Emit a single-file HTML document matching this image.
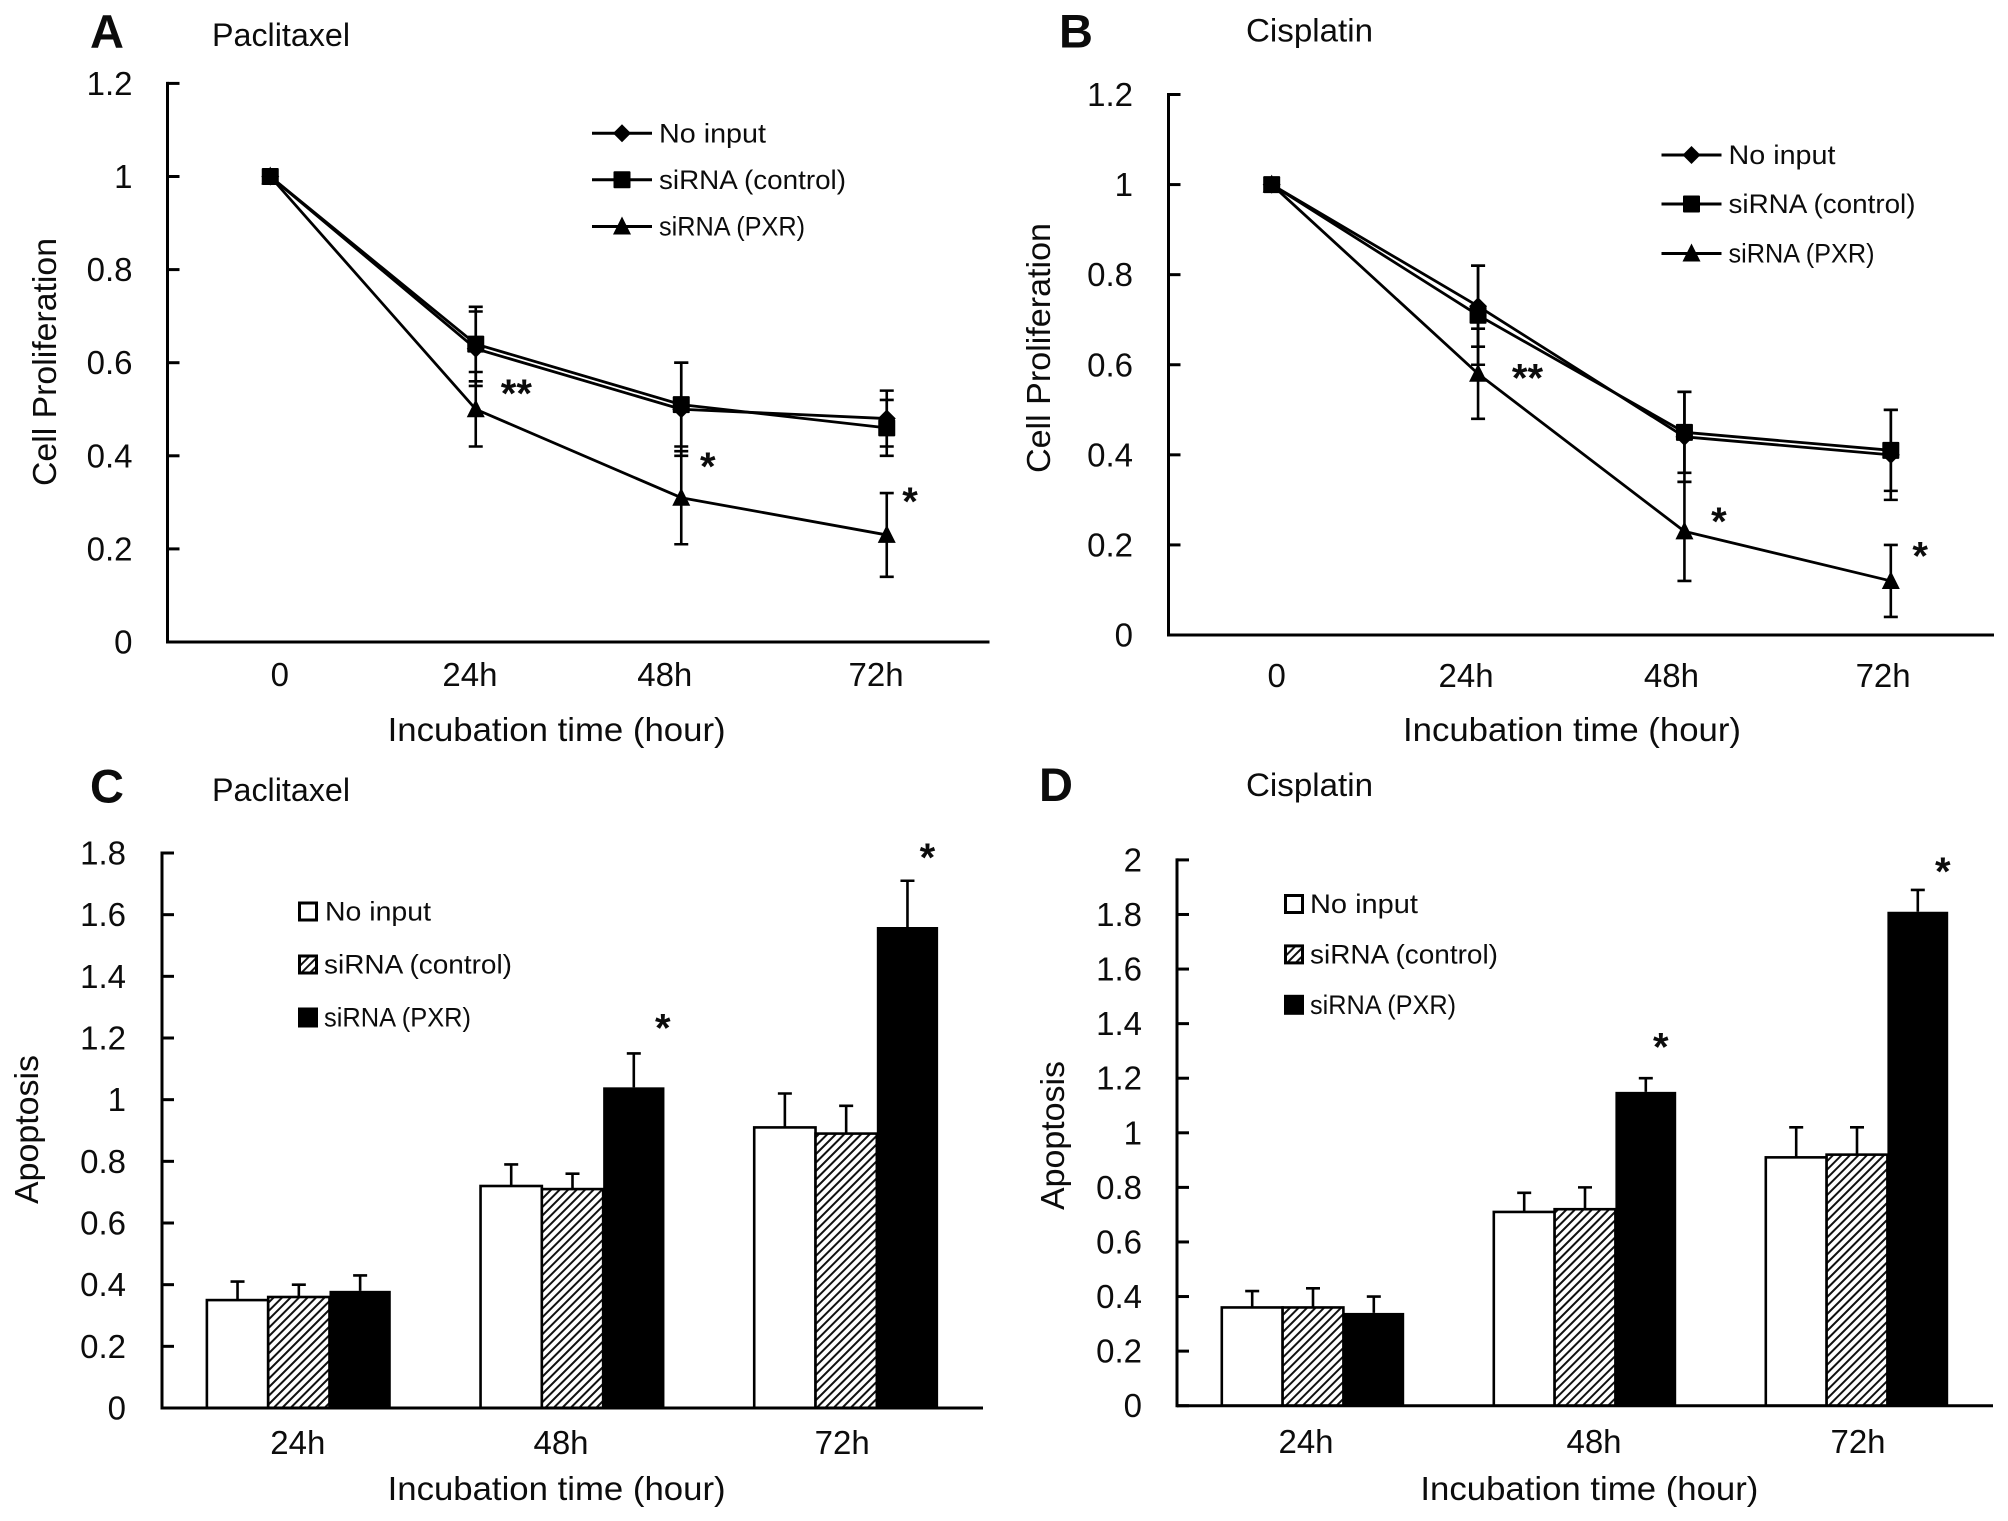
<!DOCTYPE html>
<html lang="en">
<head>
<meta charset="utf-8">
<title>Cell proliferation and apoptosis after siRNA knockdown</title>
<style>
  html, body { margin: 0; padding: 0; background: #fff; }
  svg { display: block; }
  text { font-family: "Liberation Sans", sans-serif; fill: #0c0c0c; }
</style>
</head>
<body>
<svg id="figure" xmlns="http://www.w3.org/2000/svg" width="2008" height="1521" viewBox="0 0 2008 1521">
  <defs>
    <pattern id="hatch" patternUnits="userSpaceOnUse" width="6" height="6" patternTransform="rotate(45)">
      <rect width="6" height="6" fill="#fff"></rect>
      <rect x="0" y="0" width="2" height="6" fill="#111"></rect>
    </pattern>
  </defs>
  <rect x="0" y="0" width="2008" height="1521" fill="#fff"></rect>
</svg>
<script>
// ---- Panel A: proliferation, paclitaxel ----
const aCategories = ['0', '24h', '48h', '72h'];
const aTicks = [0, 0.2, 0.4, 0.6, 0.8, 1, 1.2];
const aNoInput = [1, 0.63, 0.50, 0.48];
const aControl = [1, 0.64, 0.51, 0.46];
const aPxr = [1, 0.50, 0.31, 0.23];
const aNoInputErr = [0, 0.08, 0.10, 0.06];
const aControlErr = [0, 0.08, 0.09, 0.06];
const aPxrErr = [0, 0.08, 0.10, 0.09];
const aStars = ['', '**', '*', '*'];

// ---- Panel B: proliferation, cisplatin ----
const bCategories = ['0', '24h', '48h', '72h'];
const bTicks = [0, 0.2, 0.4, 0.6, 0.8, 1, 1.2];
const bNoInput = [1, 0.73, 0.44, 0.40];
const bControl = [1, 0.71, 0.45, 0.41];
const bPxr = [1, 0.58, 0.23, 0.12];
const bNoInputErr = [0, 0.09, 0.10, 0.10];
const bControlErr = [0, 0.11, 0.09, 0.09];
const bPxrErr = [0, 0.10, 0.11, 0.08];
const bStars = ['', '**', '*', '*'];

// ---- Panel C: apoptosis, paclitaxel ----
const cCategories = ['24h', '48h', '72h'];
const cTicks = [0, 0.2, 0.4, 0.6, 0.8, 1, 1.2, 1.4, 1.6, 1.8];
const cNoInput = [0.35, 0.72, 0.91];
const cControl = [0.36, 0.71, 0.89];
const cPxr = [0.38, 1.04, 1.56];
const cNoInputErr = [0.06, 0.07, 0.11];
const cControlErr = [0.04, 0.05, 0.09];
const cPxrErr = [0.05, 0.11, 0.15];
const cStars = ['', '*', '*'];

// ---- Panel D: apoptosis, cisplatin ----
const dCategories = ['24h', '48h', '72h'];
const dTicks = [0, 0.2, 0.4, 0.6, 0.8, 1, 1.2, 1.4, 1.6, 1.8, 2];
const dNoInput = [0.36, 0.71, 0.91];
const dControl = [0.36, 0.72, 0.92];
const dPxr = [0.34, 1.15, 1.81];
const dNoInputErr = [0.06, 0.07, 0.11];
const dControlErr = [0.07, 0.08, 0.10];
const dPxrErr = [0.06, 0.05, 0.08];
const dStars = ['', '*', '*'];

const seriesNames = ['No input', 'siRNA (control)', 'siRNA (PXR)'];
const seriesSlugs = ['no-input', 'sirna-control', 'sirna-pxr'];

const NS = 'http://www.w3.org/2000/svg';
const root = document.getElementById('figure');

function make(parent, tag, props) {
  const node = document.createElementNS(NS, tag);
  for (const key in props) node.setAttribute(key, props[key]);
  parent.appendChild(node);
  return node;
}

function addText(parent, name, str, x, y, size, opts) {
  const o = opts || {};
  const props = { x: x, y: y, 'font-size': size };
  if (o.anchor) props['text-anchor'] = o.anchor;
  if (o.weight) props['font-weight'] = o.weight;
  if (o.length) {
    props.textLength = o.length;
    props.lengthAdjust = 'spacingAndGlyphs';
  }
  if (o.transform) props.transform = o.transform;
  const t = make(parent, 'text', props);
  t.textContent = str;
  
  
  return t;
}

function newGroup(parent, name) {
  const g = make(parent, 'g', {});
  
  
  return g;
}

function drawMarker(parent, kind, cx, cy, name) {
  let m;
  if (kind === 0) {
    m = make(parent, 'polygon', { points: [cx, cy - 9, cx + 9, cy, cx, cy + 9, cx - 9, cy].join(' '), fill: '#000' });
  } else if (kind === 1) {
    m = make(parent, 'rect', { x: cx - 8.5, y: cy - 8.5, width: 17, height: 17, rx: 1, fill: '#000' });
  } else {
    m = make(parent, 'polygon', { points: [cx, cy - 10, cx + 9, cy + 8, cx - 9, cy + 8].join(' '), fill: '#000' });
  }
  
  
}

function drawFrame(panel, p, ticks, yScale) {
  const yAxis = make(panel, 'line', { x1: p.axisX, x2: p.axisX, y1: p.top - 1.5, y2: p.zero + 1.5, stroke: '#000', 'stroke-width': 3 });
  
  
  const xAxis = make(panel, 'line', { x1: p.axisX, x2: p.axisEnd, y1: p.zero, y2: p.zero, stroke: '#000', 'stroke-width': 3 });
  
  
  ticks.forEach(function (v) {
    const py = yScale(v);
    const tick = make(panel, 'line', { x1: p.axisX, x2: p.axisX + 12, y1: py, y2: py, stroke: '#000', 'stroke-width': 3 });
    
    
    addText(panel, 'y-tick-label', String(v), p.tickRight, py + 11.5, 33, { anchor: 'end' });
  });
}

function drawTitles(panel, p) {
  addText(panel, 'panel-letter', p.letter, p.letterX, p.letterY, 47, { weight: 'bold' });
  addText(panel, 'panel-title', p.title, p.titleX, p.titleY, 32, { length: p.titleLen });
  addText(panel, 'x-axis-title', 'Incubation time (hour)', p.xTitleX, p.xTitleY, 33, { length: 338 });
  addText(panel, 'y-axis-title', p.yTitle, 0, 0, 33, {
    length: p.yTitleLen,
    anchor: 'start',
    transform: 'translate(' + p.yTitleX + ',' + p.yTitleBottom + ') rotate(-90)'
  });
}

function drawLinePanel(p, categories, ticks, series, errors, stars) {
  const panel = newGroup(root, p.name);
  const catW = (p.axisEnd - p.axisX) / categories.length;
  const xScale = function (i) { return p.axisX + (i + 0.5) * catW; };
  const yScale = function (v) { return p.zero - (v / ticks[ticks.length - 1]) * (p.zero - p.top); };

  drawFrame(panel, p, ticks, yScale);
  drawTitles(panel, p);

  categories.forEach(function (c, i) {
    addText(panel, 'x-tick-label', c, xScale(i) + p.labelNudge[i], p.labelY, 33, { anchor: 'middle' });
  });

  series.forEach(function (values, s) {
    const g = newGroup(panel, 'series-' + seriesSlugs[s]);
    values.forEach(function (v, i) {
      const e = errors[s][i];
      if (!e) return;
      const cx = xScale(i);
      const hi = yScale(v + e);
      const lo = yScale(v - e);
      const bar = make(g, 'path', {
        d: 'M' + (cx - 7) + ' ' + hi + 'H' + (cx + 7) + 'M' + cx + ' ' + hi + 'V' + lo + 'M' + (cx - 7) + ' ' + lo + 'H' + (cx + 7),
        fill: 'none', stroke: '#000', 'stroke-width': 2.6
      });
      
      
    });
    const pts = values.map(function (v, i) { return xScale(i) + ',' + yScale(v); }).join(' ');
    const line = make(g, 'polyline', { points: pts, fill: 'none', stroke: '#000', 'stroke-width': 2.8, 'stroke-linejoin': 'round' });
    
    
    values.forEach(function (v, i) {
      drawMarker(g, s, xScale(i), yScale(v), 'data-point');
    });
  });

  stars.forEach(function (mark, i) {
    if (!mark) return;
    const top = series[2][i] + errors[2][i];
    addText(panel, 'significance-mark', mark, xScale(i) + p.starDx[i], yScale(top) + p.starDy[i] + 17, 40, { anchor: 'middle', weight: 'bold' });
  });

  const legend = newGroup(panel, 'legend');
  seriesNames.forEach(function (label, s) {
    const entry = newGroup(legend, 'legend-entry');
    const ly = p.legendY[s];
    const sample = make(entry, 'line', { x1: p.legendX, x2: p.legendX + 60, y1: ly, y2: ly, stroke: '#000', 'stroke-width': 3 });
    
    
    drawMarker(entry, s, p.legendX + 30, ly, 'legend-marker');
    addText(entry, 'legend-label', label, p.legendX + 67, ly + 9, 27, { length: p.legendLen[s] });
  });
}

function drawBarPanel(p, categories, ticks, series, errors, stars) {
  const panel = newGroup(root, p.name);
  const catW = (p.axisEnd - p.axisX) / categories.length;
  const barW = p.barW;
  const yScale = function (v) { return p.zero - (v / ticks[ticks.length - 1]) * (p.zero - p.top); };
  const barLeft = function (i, s) { return p.axisX + (i + 0.5) * catW + (s - 1.5) * barW; };
  const fills = ['#fff', 'url(#hatch)', '#000'];

  drawTitles(panel, p);

  series.forEach(function (values, s) {
    const g = newGroup(panel, 'series-' + seriesSlugs[s]);
    values.forEach(function (v, i) {
      const cx = barLeft(i, s) + barW / 2;
      const hi = yScale(v + errors[s][i]);
      const err = make(g, 'path', {
        d: 'M' + (cx - 7) + ' ' + hi + 'H' + (cx + 7) + 'M' + cx + ' ' + hi + 'V' + yScale(v),
        fill: 'none', stroke: '#000', 'stroke-width': 2.6
      });
      
      
      const bar = make(g, 'rect', {
        x: barLeft(i, s), y: yScale(v), width: barW, height: p.zero - yScale(v),
        fill: fills[s], stroke: s === 2 ? 'none' : '#000', 'stroke-width': 2.6
      });
      
      
    });
  });

  drawFrame(panel, p, ticks, yScale);

  categories.forEach(function (c, i) {
    addText(panel, 'x-tick-label', c, p.axisX + (i + 0.5) * catW + p.labelNudge[i], p.labelY, 33, { anchor: 'middle' });
  });

  stars.forEach(function (mark, i) {
    if (!mark) return;
    const top = series[2][i] + errors[2][i];
    const cx = barLeft(i, 2) + barW / 2;
    addText(panel, 'significance-mark', mark, cx + p.starDx[i], yScale(top) + p.starDy[i] + 17, 40, { anchor: 'middle', weight: 'bold' });
  });

  const legend = newGroup(panel, 'legend');
  seriesNames.forEach(function (label, s) {
    const entry = newGroup(legend, 'legend-entry');
    const ly = p.legendY[s];
    const swatch = make(entry, 'rect', {
      x: p.legendX + 1.5, y: ly - 8.5, width: 17, height: 17,
      fill: fills[s], stroke: '#000', 'stroke-width': 3
    });
    
    
    addText(entry, 'legend-label', label, p.legendTextX[s], ly + 9, 27, { length: p.legendLen[s] });
  });
}

drawLinePanel({
  name: 'panel-a', letter: 'A', letterX: 90, letterY: 48, title: 'Paclitaxel', titleX: 212, titleY: 46, titleLen: 138,
  yTitle: 'Cell Proliferation', yTitleX: 56, yTitleBottom: 486, yTitleLen: 248,
  xTitleX: 387.6, xTitleY: 741, axisX: 167.5, axisEnd: 989.5, top: 83.4, zero: 642, tickRight: 132.5,
  labelY: 686, labelNudge: [9.5, -5.8, -16.5, -10.7],
  starDx: [0, 40.6, 26.5, 23.3], starDy: [0, 18, 12, 5],
  legendX: 592, legendY: [133.3, 179.8, 226.5], legendLen: [107, 187, 146]
}, aCategories, aTicks, [aNoInput, aControl, aPxr], [aNoInputErr, aControlErr, aPxrErr], aStars);

drawLinePanel({
  name: 'panel-b', letter: 'B', letterX: 1059, letterY: 47.5, title: 'Cisplatin', titleX: 1246, titleY: 41.5, titleLen: 127,
  yTitle: 'Cell Proliferation', yTitleX: 1050, yTitleBottom: 473, yTitleLen: 250,
  xTitleX: 1403, xTitleY: 741, axisX: 1168.5, axisEnd: 1994, top: 94.5, zero: 635, tickRight: 1133,
  labelY: 687, labelNudge: [5, -12, -13, -7.7],
  starDx: [0, 49.4, 34.5, 29.3], starDy: [0, 46, 36, 7.6],
  legendX: 1661.5, legendY: [155, 204, 253.5], legendLen: [107, 187, 146]
}, bCategories, bTicks, [bNoInput, bControl, bPxr], [bNoInputErr, bControlErr, bPxrErr], bStars);

drawBarPanel({
  name: 'panel-c', letter: 'C', letterX: 90, letterY: 802.5, title: 'Paclitaxel', titleX: 212, titleY: 801, titleLen: 138,
  yTitle: 'Apoptosis', yTitleX: 38, yTitleBottom: 1204, yTitleLen: 149,
  xTitleX: 387.6, xTitleY: 1500, axisX: 162, axisEnd: 983, top: 853, zero: 1408, tickRight: 126,
  labelY: 1454, labelNudge: [-1, -11.5, -4], barW: 61.3,
  starDx: [0, 29, 20], starDy: [0, -29, -27],
  legendX: 298, legendY: [911.5, 964.5, 1017.5], legendTextX: [325, 324, 324], legendLen: [106, 188, 147]
}, cCategories, cTicks, [cNoInput, cControl, cPxr], [cNoInputErr, cControlErr, cPxrErr], cStars);

drawBarPanel({
  name: 'panel-d', letter: 'D', letterX: 1039, letterY: 801, title: 'Cisplatin', titleX: 1246, titleY: 796, titleLen: 127,
  yTitle: 'Apoptosis', yTitleX: 1064, yTitleBottom: 1210, yTitleLen: 149,
  xTitleX: 1420.4, xTitleY: 1500, axisX: 1177, axisEnd: 1993, top: 859.9, zero: 1405.7, tickRight: 1142,
  labelY: 1453, labelNudge: [-7, 9, 1], barW: 60.8,
  starDx: [0, 15, 25], starDy: [0, -34.6, -22],
  legendX: 1284, legendY: [904, 954.4, 1004.8], legendTextX: [1310, 1310, 1310], legendLen: [108, 188, 146]
}, dCategories, dTicks, [dNoInput, dControl, dPxr], [dNoInputErr, dControlErr, dPxrErr], dStars);
</script>
</body>
</html>
